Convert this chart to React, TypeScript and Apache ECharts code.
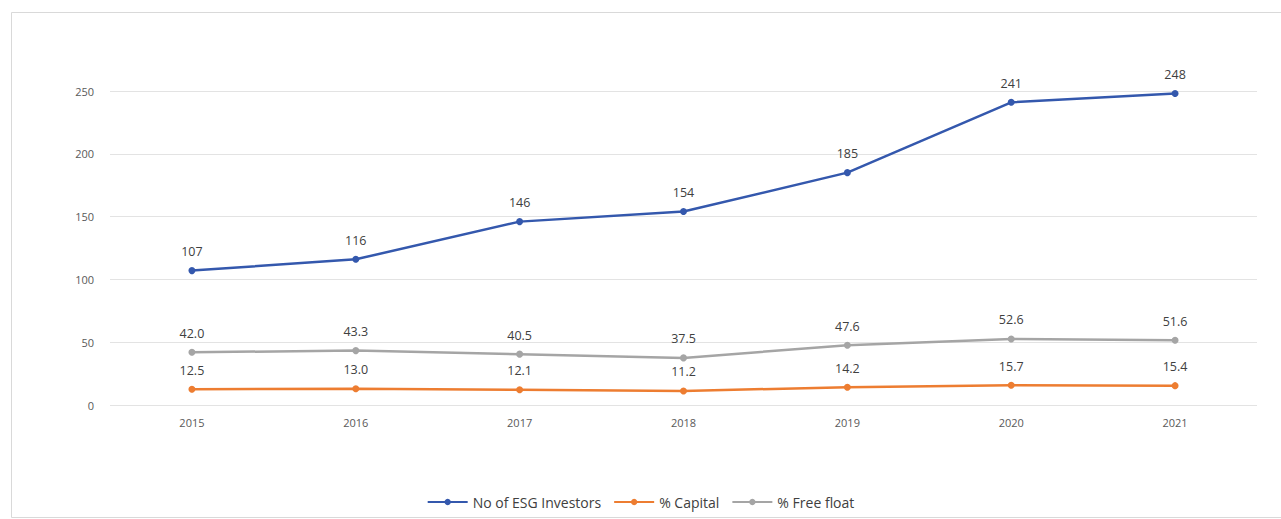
import React, { useEffect, useRef } from "react";
import * as echarts from "echarts";

const years = ["2015", "2016", "2017", "2018", "2019", "2020", "2021"];
const esgInvestors = [107, 116, 146, 154, 185, 241, 248];
const capitalPct = [12.5, 13.0, 12.1, 11.2, 14.2, 15.7, 15.4];
const freeFloatPct = [42.0, 43.3, 40.5, 37.5, 47.6, 52.6, 51.6];
const yTicks = { min: 0, max: 250, interval: 50 };

export default function App() {
  const ref = useRef<HTMLDivElement>(null);
  useEffect(() => {
    if (!ref.current) return;
    const chart = echarts.init(ref.current, undefined, { renderer: "svg" });
    const font = "'Open Sans', 'Liberation Sans', sans-serif";
    const mkSeries = (name: string, data: number[], color: string, decimals: number) => ({
      name,
      type: "line",
      data,
      symbol: "circle",
      symbolSize: 7,
      lineStyle: { color, width: 2.5 },
      itemStyle: { color },
      label: {
        show: true,
        position: "top",
        distance: 9,
        color: "#404040",
        fontSize: 12.5,
        fontFamily: font,
        formatter: (p: any) => Number(p.value).toFixed(decimals),
      },
    });
    chart.setOption({
      animation: false,
      backgroundColor: "#ffffff",
      textStyle: { fontFamily: font },
      graphic: [
        {
          type: "rect",
          shape: { x: 11.5, y: 12.5, width: 1290, height: 505 },
          style: { fill: "none", stroke: "#d9d9d9", lineWidth: 1 },
          silent: true,
        },
      ],
      grid: { left: 110, right: 24, top: 91, bottom: 114 },
      legend: {
        bottom: 5,
        left: "center",
        itemWidth: 40,
        itemHeight: 8,
        itemGap: 12,
        textStyle: { color: "#404040", fontSize: 14, fontFamily: font },
        data: ["No of ESG Investors", "% Capital", "% Free float"],
      },
      xAxis: {
        type: "category",
        data: years,
        boundaryGap: true,
        axisLine: { show: false },
        axisTick: { show: false },
        axisLabel: { color: "#595959", fontSize: 11, margin: 12, fontFamily: font },
      },
      yAxis: {
        type: "value",
        min: yTicks.min,
        max: yTicks.max,
        interval: yTicks.interval,
        axisLine: { show: false },
        axisTick: { show: false },
        axisLabel: { color: "#595959", fontSize: 11, margin: 16, fontFamily: font },
        splitLine: { lineStyle: { color: "#e3e3e3", width: 1 } },
      },
      series: [
        mkSeries("No of ESG Investors", esgInvestors, "#3458ad", 0),
        mkSeries("% Capital", capitalPct, "#ED7D31", 1),
        mkSeries("% Free float", freeFloatPct, "#A5A5A5", 1),
      ],
    });
    return () => chart.dispose();
  }, []);
  return (
    <div
      ref={ref}
      style={{ position: "absolute", left: 0, top: 0, width: 1281, height: 519 }}
    />
  );
}
